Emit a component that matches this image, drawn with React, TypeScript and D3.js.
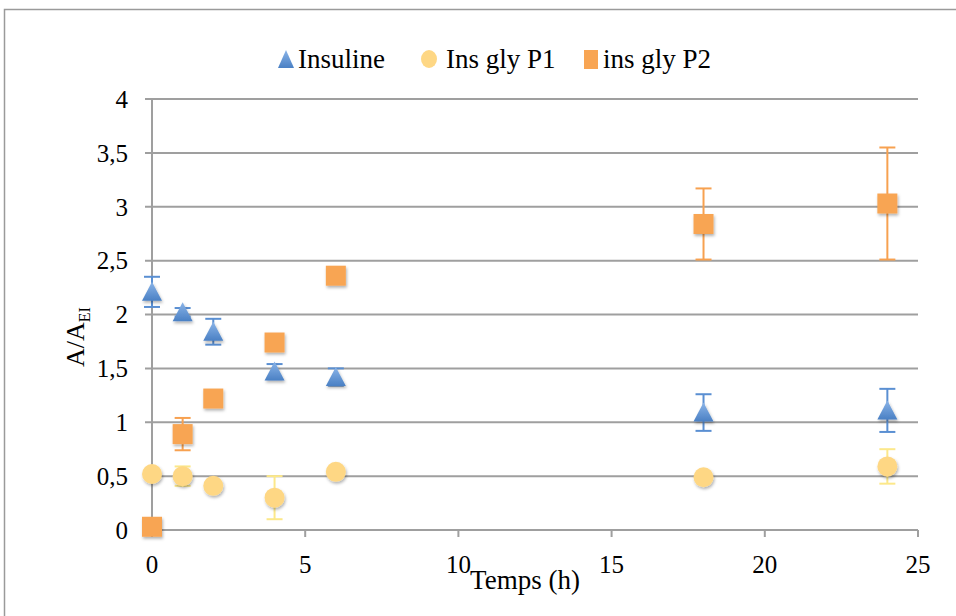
import React from "react";
import * as d3 from "d3";

const hours = [0, 1, 2, 4, 6, 18, 24];
const insuline = [2.21, 2.02, 1.84, 1.47, 1.42, 1.09, 1.11];
const insulineErr = [0.14, 0.04, 0.12, 0.07, 0.08, 0.17, 0.2];
const insGlyP1 = [0.52, 0.5, 0.41, 0.3, 0.54, 0.49, 0.59];
const insGlyP1Err = [0, 0.09, 0, 0.2, 0, 0, 0.16];
const insGlyP2 = [0.03, 0.89, 1.22, 1.74, 2.36, 2.84, 3.03];
const insGlyP2Err = [0, 0.15, 0, 0, 0, 0.33, 0.52];
const xTicks = [0, 5, 10, 15, 20, 25];
const yTicks = [0, 0.5, 1, 1.5, 2, 2.5, 3, 3.5, 4];
const seriesNames = ["Insuline", "Ins gly P1", "ins gly P2"];

const W = 956;
const H = 616;
const FONT = "Liberation Serif, DejaVu Serif, serif";

const x = d3.scaleLinear().domain([0, 25]).range([152, 918]);
const y = d3.scaleLinear().domain([0, 4]).range([530, 99]);

const fmt = (v: number) => String(v).replace(".", ",");

type Shape = "tri" | "circle" | "square";

function Marker({ shape, cx, cy }: { shape: Shape; cx: number; cy: number }) {
  if (shape === "tri") {
    const s = 10;
    return (
      <path
        d={`M${cx},${cy - s} L${cx + s},${cy + s - 1} L${cx - s},${cy + s - 1} Z`}
        fill="url(#gBlue)"
        filter="url(#shadow)"
      />
    );
  }
  if (shape === "circle") {
    return <circle cx={cx} cy={cy} r={10} fill="#FED784" filter="url(#shadow)" />;
  }
  return <rect x={cx - 10} y={cy - 10} width={20} height={20} fill="#F8A553" filter="url(#shadow)" />;
}

function ErrorBars({ vals, errs, color }: { vals: number[]; errs: number[]; color: string }) {
  return (
    <g stroke={color} strokeWidth={2}>
      {hours.map((h, i) => {
        const e = errs[i];
        if (!e) return null;
        const cx = x(h);
        const y1 = y(vals[i] + e);
        const y2 = y(vals[i] - e);
        return (
          <g key={i}>
            <line x1={cx} x2={cx} y1={y1} y2={y2} />
            <line x1={cx - 8} x2={cx + 8} y1={y1} y2={y1} />
            <line x1={cx - 8} x2={cx + 8} y1={y2} y2={y2} />
          </g>
        );
      })}
    </g>
  );
}

export default function App() {
  const series: { vals: number[]; errs: number[]; shape: Shape; err: string }[] = [
    { vals: insuline, errs: insulineErr, shape: "tri", err: "#5A8FD2" },
    { vals: insGlyP1, errs: insGlyP1Err, shape: "circle", err: "#FCE88A" },
    { vals: insGlyP2, errs: insGlyP2Err, shape: "square", err: "#F7A150" },
  ];
  const legendItems: { shape: Shape; mx: number; tx: number }[] = [
    { shape: "tri", mx: 286, tx: 298 },
    { shape: "circle", mx: 429, tx: 446 },
    { shape: "square", mx: 591, tx: 603 },
  ];
  return (
    <div style={{ position: "fixed", left: 0, top: 0 }}>
      <svg width={W} height={H} style={{ display: "block", background: "#fff" }}>
        <defs>
          <linearGradient id="gBlue" x1="0" y1="0" x2="0" y2="1">
            <stop offset="0" stopColor="#8AB4E8" />
            <stop offset="1" stopColor="#4A80C4" />
          </linearGradient>
          <filter id="shadow" x="-50%" y="-50%" width="200%" height="200%">
            <feDropShadow dx="1" dy="2" stdDeviation="1.5" floodColor="#000" floodOpacity="0.3" />
          </filter>
        </defs>
        {/* outer frame */}
        <path d={`M4.5,${H} L4.5,9.5 L${W},9.5`} fill="none" stroke="#9a9a9a" strokeWidth={1.5} />

        {/* gridlines */}
        <g stroke="#9f9f9f" strokeWidth={2}>
          {yTicks.map((t) => (
            <line key={t} x1={145} x2={918} y1={y(t)} y2={y(t)} />
          ))}
          <line x1={x(0)} x2={x(0)} y1={y(4)} y2={y(0)} />
          {xTicks.map((t) => (
            <line key={t} x1={x(t)} x2={x(t)} y1={y(0)} y2={y(0) + 7} />
          ))}
        </g>

        {/* tick labels */}
        <g fontFamily={FONT} fontSize={25} fill="#000">
          {yTicks.map((t) => (
            <text key={t} x={128} y={y(t)} dy="0.35em" textAnchor="end">
              {fmt(t)}
            </text>
          ))}
          {xTicks.map((t) => (
            <text key={t} x={x(t)} y={573} textAnchor="middle">
              {fmt(t)}
            </text>
          ))}
        </g>

        {/* axis titles */}
        <text x={525} y={589} textAnchor="middle" fontFamily={FONT} fontSize={27}>
          Temps (h)
        </text>
        <text
          transform="translate(84,337) rotate(-90)"
          textAnchor="middle"
          fontFamily={FONT}
          fontSize={26}
        >
          A/A
          <tspan fontSize={16} dy={6}>
            EI
          </tspan>
        </text>

        {/* error bars behind markers */}
        {series.map((s, i) => (
          <ErrorBars key={i} vals={s.vals} errs={s.errs} color={s.err} />
        ))}
        {series.map((s, i) => (
          <g key={i}>
            {hours.map((h, j) => (
              <Marker key={j} shape={s.shape} cx={x(h)} cy={y(s.vals[j])} />
            ))}
          </g>
        ))}

        {/* legend */}
        {legendItems.map((l, i) => (
          <g key={i}>
            {l.shape === "tri" ? (
              <path d={`M${l.mx},50 L${l.mx + 8},68 L${l.mx - 8},68 Z`} fill="url(#gBlue)" />
            ) : l.shape === "circle" ? (
              <ellipse cx={l.mx} cy={59} rx={8} ry={9} fill="#FED784" />
            ) : (
              <rect x={l.mx - 7} y={50} width={14} height={19} fill="#F8A553" />
            )}
            <text x={l.tx} y={68} fontFamily={FONT} fontSize={27}>
              {seriesNames[i]}
            </text>
          </g>
        ))}
      </svg>
    </div>
  );
}
